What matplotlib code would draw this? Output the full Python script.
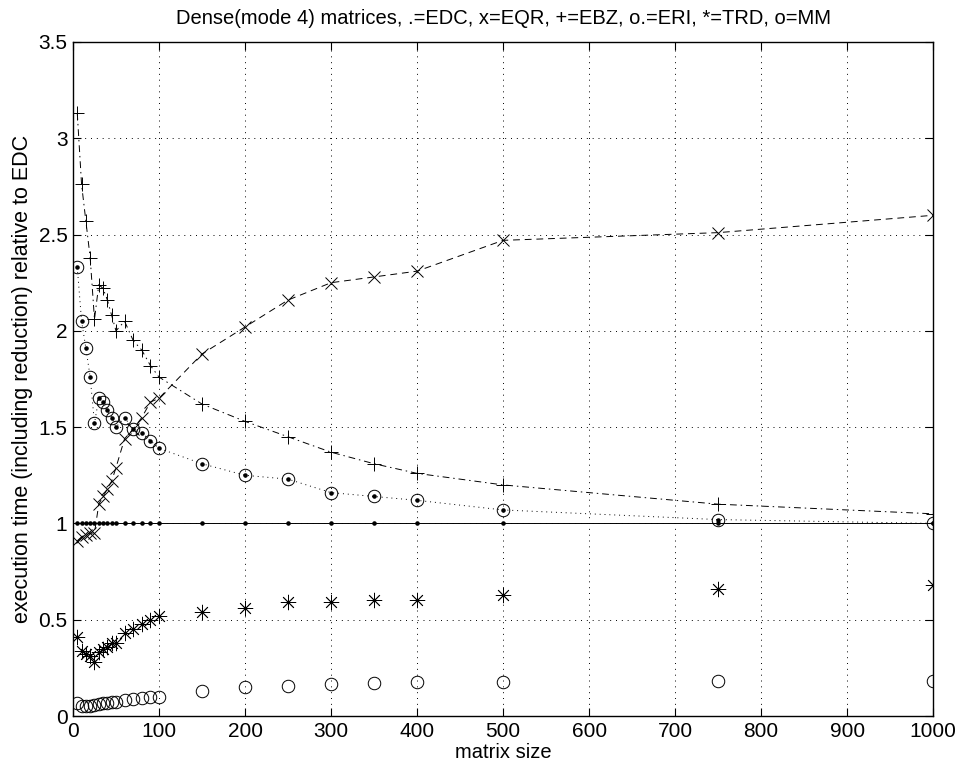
import matplotlib
matplotlib.use("Agg")
import matplotlib.pyplot as plt

sizes = [5, 10, 15, 20, 25, 30, 35, 40, 45, 50, 60, 70, 80, 90, 100,
         150, 200, 250, 300, 350, 400, 500, 750, 1000]

edc = [1.0] * len(sizes)
eqr = [0.91, 0.93, 0.94, 0.95, 0.95, 1.10, 1.14, 1.18, 1.22, 1.29, 1.44, 1.49, 1.55, 1.63, 1.65,
       1.88, 2.02, 2.16, 2.25, 2.28, 2.31, 2.47, 2.51, 2.60]
ebz = [3.13, 2.76, 2.57, 2.38, 2.06, 2.24, 2.22, 2.16, 2.08, 2.00, 2.05, 1.95, 1.90, 1.82, 1.76,
       1.62, 1.53, 1.45, 1.37, 1.31, 1.26, 1.20, 1.10, 1.05]
eri = [2.33, 2.05, 1.91, 1.76, 1.52, 1.65, 1.63, 1.59, 1.55, 1.50, 1.55, 1.49, 1.47, 1.43, 1.39,
       1.31, 1.25, 1.23, 1.16, 1.14, 1.12, 1.07, 1.02, 1.00]
trd = [0.41, 0.34, 0.32, 0.31, 0.28, 0.33, 0.35, 0.36, 0.38, 0.38, 0.43, 0.45, 0.48, 0.50, 0.52,
       0.54, 0.56, 0.59, 0.59, 0.60, 0.60, 0.63, 0.66, 0.68]
mm = [0.065, 0.05, 0.05, 0.05, 0.055, 0.06, 0.065, 0.07, 0.072, 0.075, 0.085, 0.09, 0.095, 0.097, 0.10,
      0.13, 0.15, 0.155, 0.165, 0.17, 0.175, 0.175, 0.18, 0.18]

x_ticks = list(range(0, 1001, 100))
y_ticks = [0, 0.5, 1, 1.5, 2, 2.5, 3, 3.5]
y_ticklabels = ["0", "0.5", "1", "1.5", "2", "2.5", "3", "3.5"]

title = "Dense(mode 4) matrices, .=EDC, x=EQR, +=EBZ, o.=ERI, *=TRD, o=MM"

plt.rcParams["font.family"] = "Liberation Sans"

fig = plt.figure(figsize=(9.64, 7.76), dpi=100)
ax = fig.add_axes([0.0757, 0.0773, 0.8923, 0.8686])

lw = 0.7
ms = 9
ax.plot(sizes, edc, "-", color="black", lw=lw, marker=".", ms=4.5)
ax.plot(sizes, eqr, color="black", lw=lw, ls=(0, (7, 5)), marker="x", ms=ms, mew=0.7)
ax.plot(sizes, ebz, color="black", lw=lw, ls=(0, (7, 4, 1.5, 4)), marker="+", ms=ms + 1, mew=0.7)
ax.plot(sizes, eri, color="black", lw=lw, ls=(0, (1, 4)), marker="o", ms=ms, mfc="none", mew=0.7)
ax.plot(sizes, eri, color="black", ls="none", marker=".", ms=4.5)
ax.plot(sizes, trd, color="black", ls="none", marker=(8, 2, 0), ms=ms + 2, mew=0.6)
ax.plot(sizes, mm, color="black", ls="none", marker="o", ms=ms, mfc="none", mew=0.7)

ax.set_xlim(0, 1000)
ax.set_ylim(0, 3.5)
ax.set_xticks(x_ticks)
ax.set_yticks(y_ticks)
ax.set_yticklabels(y_ticklabels)
ax.tick_params(direction="in", top=True, right=True, length=6, width=0.8, labelsize=15, pad=4)
ax.grid(True, linestyle=(0, (1, 5)), color="black", lw=0.7)
for s in ax.spines.values():
    s.set_linewidth(1.0)

ax.set_title(title, fontsize=14.5, pad=13)
ax.set_xlabel("matrix size", fontsize=14.5, labelpad=2)
ax.set_ylabel("execution time (including reduction) relative to EDC", fontsize=15.5, labelpad=4)

fig.savefig("out.png", dpi=100)
